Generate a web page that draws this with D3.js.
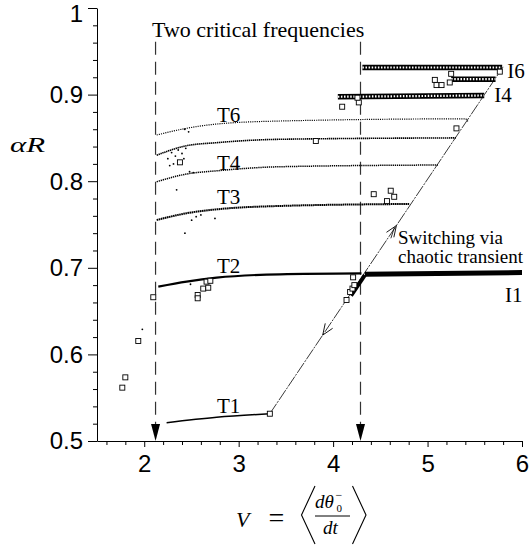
<!DOCTYPE html>
<html><head><meta charset="utf-8">
<script src="https://cdn.jsdelivr.net/npm/d3@7"></script>
<style>body{margin:0;background:#fff}svg{display:block}</style>
</head><body>
<svg id="c" width="531" height="550"></svg>
<script>
// ---- data ----
const xDomain = [1.5, 6];
const yDomain = [0.5, 1.0];
const xMajorTicks = [2, 3, 4, 5, 6];
const xMinorTicks = [1.6, 1.8, 2.2, 2.4, 2.6, 2.8, 3.2, 3.4, 3.6, 3.8, 4.2, 4.4, 4.6, 4.8, 5.2, 5.4, 5.6, 5.8];
const yMajorTicks = [0.5, 0.6, 0.7, 0.8, 0.9, 1.0];
const yMinorTicks = [0.52, 0.54, 0.56, 0.58, 0.62, 0.64, 0.66, 0.68, 0.72, 0.74, 0.76, 0.78, 0.82, 0.84, 0.86, 0.88, 0.92, 0.94, 0.96, 0.98];

const T1 = [[2.237, 0.5211], [2.767, 0.5274], [3.33, 0.5315]];
const T2 = [[2.149, 0.6782], [2.449, 0.684], [2.767, 0.6886], [3.437, 0.6925], [4.30, 0.6935]];
const T3 = [[2.132, 0.7552], [2.449, 0.763], [2.767, 0.7675], [3.437, 0.7714], [4.81, 0.7737]];
const T4 = [[2.132, 0.7994], [2.449, 0.8083], [2.767, 0.812], [3.437, 0.8167], [5.11, 0.8187]];
const T5 = [[2.132, 0.830], [2.449, 0.841], [2.767, 0.8445], [3.437, 0.8484], [5.30, 0.850]];
const T6 = [[2.132, 0.8533], [2.449, 0.8611], [2.767, 0.866], [3.437, 0.8695], [5.40, 0.872], [5.43, 0.8685]];

const I1 = [[4.336, 0.6925], [6.0, 0.6945]];
const junction = [[4.19, 0.668], [4.336, 0.6915]];
const I4 = [[4.05, 0.8975], [5.60, 0.899]];
const I5 = [[5.25, 0.9178], [5.72, 0.9178]];
const I6 = [[4.31, 0.9313], [5.79, 0.9313]];
const diagonal = [[3.33, 0.5315], [5.80, 0.932]];

const squares = [
  [1.768, 0.5616], [1.80, 0.5735], [1.937, 0.6155], [2.096, 0.666],
  [2.566, 0.6686], [2.566, 0.6648], [2.625, 0.676], [2.678, 0.677], [2.66, 0.684], [2.70, 0.685],
  [3.33, 0.5315],
  [4.142, 0.6628], [4.212, 0.689], [4.18, 0.672], [4.205, 0.676], [4.225, 0.680],
  [4.43, 0.785], [4.61, 0.789], [4.647, 0.782], [4.57, 0.777],
  [2.378, 0.8218], [3.817, 0.8464], [5.306, 0.861],
  [4.096, 0.886], [4.272, 0.891], [4.258, 0.8964],
  [5.077, 0.917], [5.095, 0.911], [5.148, 0.911], [5.235, 0.914], [5.25, 0.924], [5.765, 0.9265]
];
const strayDots = [
  [1.98, 0.629], [2.49, 0.681], [2.343, 0.790], [2.431, 0.740], [2.502, 0.755], [2.749, 0.757],
  [2.43, 0.860], [2.47, 0.857], [2.25, 0.826], [2.29, 0.833], [2.33, 0.829], [2.36, 0.836],
  [2.40, 0.832], [2.42, 0.826], [2.31, 0.820], [2.44, 0.838], [2.27, 0.818], [2.55, 0.759],
  [2.60, 0.761], [2.48, 0.811], [2.52, 0.810]
];
const criticalV = [2.12, 4.29];
const criticalTop = 0.961;
const arrowsOnDiagonal = [{v: 4.67, dir: 1}, {v: 3.89, dir: -1}];

const curveLabels = [
  {t: "T6", v: 2.77, a: 0.8688}, {t: "T4", v: 2.77, a: 0.8133},
  {t: "T3", v: 2.77, a: 0.7736}, {t: "T2", v: 2.77, a: 0.6936},
  {t: "T1", v: 2.77, a: 0.5319},
  {t: "I6", v: 5.845, a: 0.9191}, {t: "I4", v: 5.706, a: 0.8918},
  {t: "I1", v: 5.82, a: 0.6607}
];

// ---- scales ----
const svg = d3.select("#c");
const x = d3.scaleLinear().domain(xDomain).range([97, 522]);
const y = d3.scaleLinear().domain(yDomain).range([441, 8]);
const line = d3.line().x(d => x(d[0])).y(d => y(d[1]));
const smooth = d3.line().x(d => x(d[0])).y(d => y(d[1])).curve(d3.curveMonotoneX);

// ---- axes ----
const sans = "'Liberation Sans', Arial, sans-serif";
const gx = svg.append("g").attr("transform", "translate(0,441)");
gx.call(d3.axisBottom(x).tickValues(xMinorTicks).tickSize(4).tickSizeOuter(0).tickFormat(""));
const gx2 = svg.append("g").attr("transform", "translate(0,441)");
gx2.call(d3.axisBottom(x).tickValues(xMajorTicks).tickSize(6).tickSizeOuter(0).tickFormat(d3.format("d")));
gx2.select(".domain").remove();
gx2.selectAll("text").attr("y", 31).attr("dy", 0)
  .style("font-family", sans).style("font-size", "24px").attr("fill", "#000");

const gy = svg.append("g").attr("transform", "translate(97,0)");
gy.call(d3.axisLeft(y).tickValues(yMinorTicks).tickSize(4).tickSizeOuter(0).tickFormat(""));
const gy2 = svg.append("g").attr("transform", "translate(97,0)");
gy2.call(d3.axisLeft(y).tickValues(yMajorTicks).tickSize(9).tickSizeOuter(0).tickPadding(5)
  .tickFormat(d => d === 1 ? "1" : d3.format(".1f")(d)));
gy2.select(".domain").remove();
gy2.selectAll("text").attr("dy", d => d === 1 ? "0.55em" : "0.33em")
  .style("font-family", sans).style("font-size", "24px").attr("fill", "#000");
svg.selectAll(".tick line").attr("stroke", "#000");
svg.selectAll(".domain").attr("stroke", "#000");

// ---- critical frequency dashed lines with arrowheads ----
criticalV.forEach(v => {
  svg.append("line").attr("x1", x(v)).attr("x2", x(v))
    .attr("y1", y(criticalTop)).attr("y2", y(0.5) - 15)
    .attr("stroke", "#333").attr("stroke-width", 1.2).attr("stroke-dasharray", "13,7");
  svg.append("path")
    .attr("d", `M${x(v)},${y(0.5)} L${x(v) - 4.5},${y(0.5) - 17} L${x(v) + 4.5},${y(0.5) - 17} Z`)
    .attr("fill", "#000");
});

// ---- diagonal switching line ----
svg.append("path").datum(diagonal).attr("d", line)
  .attr("fill", "none").attr("stroke", "#222").attr("stroke-width", 0.9)
  .attr("stroke-dasharray", "12,1.2,2,1.2");

// arrows on the diagonal
const dA = (diagonal[1][1] - diagonal[0][1]) / (diagonal[1][0] - diagonal[0][0]);
arrowsOnDiagonal.forEach(a => {
  const av = diagonal[0][1] + (a.v - diagonal[0][0]) * dA;
  const px = x(a.v), py = y(av);
  const ang = Math.atan2(y(av + dA * 0.1) - py, x(a.v + 0.1) - px) + (a.dir > 0 ? 0 : Math.PI);
  const L = 12, sp = 0.38;
  const p1 = [px - L * Math.cos(ang - sp), py - L * Math.sin(ang - sp)];
  const p2 = [px - L * Math.cos(ang + sp), py - L * Math.sin(ang + sp)];
  svg.append("path").attr("d", `M${p1[0]},${p1[1]} L${px},${py} L${p2[0]},${p2[1]}`)
    .attr("fill", "none").attr("stroke", "#000").attr("stroke-width", 0.9);
  if (a.dir > 0) {
    svg.append("path").attr("d", `M${p1[0]-3},${p1[1]+1} L${px-2},${py+2}`)
      .attr("fill", "none").attr("stroke", "#000").attr("stroke-width", 0.8);
  }
});

// ---- T curves ----
const tStyles = [
  {d: T1, w: 1.5, dash: null},
  {d: T2, w: 2.2, dash: null},
  {d: T3, w: 2.0, dash: "1.6,0.5"},
  {d: T4, w: 1.5, dash: "1.3,0.8"},
  {d: T5, w: 1.6, dash: "1.4,0.6"},
  {d: T6, w: 1.2, dash: "1.1,1.1"}
];
tStyles.forEach(s => {
  const p = svg.append("path").datum(s.d).attr("d", smooth)
    .attr("fill", "none").attr("stroke", "#000").attr("stroke-width", s.w);
  if (s.dash) p.attr("stroke-dasharray", s.dash);
});

// ---- I bands ----
svg.append("path").datum(junction).attr("d", line)
  .attr("fill", "none").attr("stroke", "#000").attr("stroke-width", 4);
svg.append("path").datum(I1).attr("d", line)
  .attr("fill", "none").attr("stroke", "#000").attr("stroke-width", 5);
[I4, I5, I6].forEach(b => {
  svg.append("path").datum(b).attr("d", line)
    .attr("fill", "none").attr("stroke", "#000").attr("stroke-width", 5.5);
  svg.append("path").datum(b).attr("d", line)
    .attr("fill", "none").attr("stroke", "#fff").attr("stroke-width", 2.2)
    .attr("stroke-dasharray", "1.5,1.6");
});

// ---- stray points & squares ----
svg.selectAll("circle.stray").data(strayDots).join("circle").attr("class", "stray")
  .attr("cx", d => x(d[0])).attr("cy", d => y(d[1])).attr("r", 0.9).attr("fill", "#000");
svg.selectAll("rect.sq").data(squares).join("rect").attr("class", "sq")
  .attr("x", d => x(d[0]) - 2.5).attr("y", d => y(d[1]) - 2.5)
  .attr("width", 5).attr("height", 5).attr("fill", "#fff").attr("stroke", "#000").attr("stroke-width", 0.9);

// ---- text ----
const serif = "'Liberation Serif', 'Times New Roman', serif";
svg.selectAll("text.lab").data(curveLabels).join("text").attr("class", "lab")
  .attr("x", d => x(d.v)).attr("y", d => y(d.a)).text(d => d.t)
  .style("font-family", serif).style("font-size", "21px");

svg.append("text").attr("x", 152).attr("y", 37).text("Two critical frequencies")
  .style("font-family", serif).style("font-size", "22px");
svg.append("text").attr("x", 398).attr("y", 243.5).text("Switching via")
  .style("font-family", serif).style("font-size", "19px");
svg.append("text").attr("x", 398).attr("y", 262.5).text("chaotic transient")
  .style("font-family", serif).style("font-size", "19px");

// y label αR
svg.append("text").attr("x", 10).attr("y", 151.5).attr("textLength", 35).attr("lengthAdjust", "spacingAndGlyphs")
  .style("font-family", serif).style("font-style", "italic").style("font-size", "20px").text("αR");

// x label  V = < dθ0- / dt >
const xl = svg.append("g");
xl.append("text").attr("x", 236).attr("y", 526.5).text("V")
  .style("font-family", serif).style("font-style", "italic").style("font-size", "22px");
xl.append("text").attr("x", 276.5).attr("y", 527).attr("text-anchor", "middle").text("=")
  .style("font-family", serif).style("font-size", "28px");
xl.append("path").attr("d", "M315,486 L301.5,515 L315,544").attr("fill", "none").attr("stroke", "#000").attr("stroke-width", 1.1);
xl.append("path").attr("d", "M352.5,486 L366,515 L352.5,544").attr("fill", "none").attr("stroke", "#000").attr("stroke-width", 1.1);
xl.append("text").attr("x", 315).attr("y", 508).text("dθ")
  .style("font-family", serif).style("font-style", "italic").style("font-size", "19px");
xl.append("text").attr("x", 336.5).attr("y", 512).text("0")
  .style("font-family", serif).style("font-size", "11px");
xl.append("text").attr("x", 335.5).attr("y", 499).text("−")
  .style("font-family", serif).style("font-size", "12px");
xl.append("line").attr("x1", 315).attr("x2", 350).attr("y1", 516).attr("y2", 516).attr("stroke", "#000").attr("stroke-width", 1);
xl.append("text").attr("x", 323).attr("y", 534).text("dt")
  .style("font-family", serif).style("font-style", "italic").style("font-size", "19px");
</script>
</body></html>
